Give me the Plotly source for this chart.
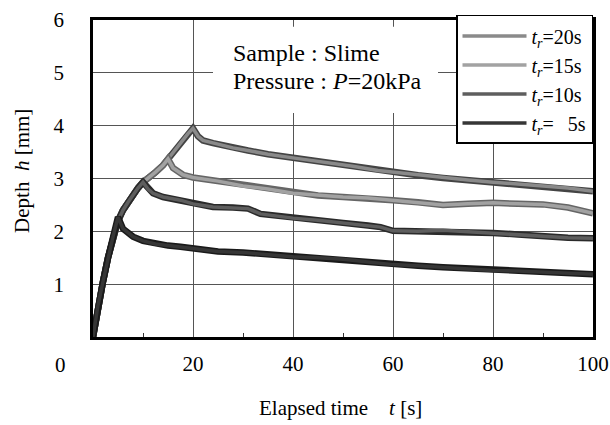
import plotly.graph_objects as go

# ---- data ----
t_5 = [0, 1, 2, 3, 4, 5, 6, 8, 10, 12.5, 15, 17.5, 20, 25, 30, 35, 40, 45, 50, 55, 60, 65, 70, 75, 80, 85, 90, 95, 100]
h_5 = [0, 0.6, 1.05, 1.5, 1.9, 2.27, 2.05, 1.9, 1.82, 1.76, 1.73, 1.71, 1.68, 1.62, 1.60, 1.56, 1.52, 1.50, 1.47, 1.42, 1.37, 1.35, 1.32, 1.30, 1.26, 1.25, 1.23, 1.22, 1.19]

t_10 = [0, 1, 2, 3, 4, 5, 6, 7, 8, 9, 10, 11, 12, 14, 17.5, 20, 24, 28, 31, 33.5, 36, 40, 45, 50, 55, 57.5, 60, 65, 70, 75, 80, 85, 90, 95, 100]
h_10 = [0, 0.6, 1.05, 1.5, 1.9, 2.2, 2.4, 2.55, 2.7, 2.82, 2.93, 2.8, 2.72, 2.65, 2.59, 2.52, 2.46, 2.45, 2.43, 2.33, 2.30, 2.25, 2.21, 2.16, 2.11, 2.08, 2.01, 2.00, 2.02, 1.99, 1.97, 1.94, 1.90, 1.88, 1.87]

t_15 = [0, 1, 2, 3, 4, 5, 6, 7, 8, 9, 10, 11, 12.5, 14, 15, 16, 18, 20, 25, 30, 35, 40, 45, 50, 55, 60, 65, 70, 75, 80, 85, 90, 95, 100]
h_15 = [0, 0.6, 1.05, 1.5, 1.9, 2.2, 2.4, 2.55, 2.7, 2.82, 2.93, 3.0, 3.12, 3.25, 3.37, 3.2, 3.07, 3.02, 2.95, 2.86, 2.80, 2.72, 2.68, 2.65, 2.63, 2.59, 2.55, 2.50, 2.52, 2.54, 2.52, 2.51, 2.45, 2.34]

t_20 = [0, 1, 2, 3, 4, 5, 6, 7, 8, 9, 10, 11, 12.5, 14, 15, 16, 17, 18, 19, 20, 21, 22, 24, 28, 31, 35, 40, 47, 52, 57, 60, 65, 70, 75, 80, 85, 90, 95, 100]
h_20 = [0, 0.6, 1.05, 1.5, 1.9, 2.2, 2.4, 2.55, 2.7, 2.82, 2.93, 3.0, 3.12, 3.25, 3.37, 3.5, 3.6, 3.72, 3.85, 3.95, 3.8, 3.72, 3.67, 3.58, 3.53, 3.46, 3.39, 3.30, 3.23, 3.15, 3.12, 3.06, 3.01, 2.97, 2.93, 2.90, 2.86, 2.82, 2.76]

series_names = ["<i>t</i><sub><i>r</i></sub>=20s", "<i>t</i><sub><i>r</i></sub>=15s",
                "<i>t</i><sub><i>r</i></sub>=10s", "<i>t</i><sub><i>r</i></sub>=\u2007\u20095s"]
series_t = [t_20, t_15, t_10, t_5]
series_h = [h_20, h_15, h_10, h_5]
inner_colors = ["#8a8a8a", "#a2a2a2", "#5e5e5e", "#363636"]
edge_colors = ["#444444", "#666666", "#2a2a2a", "#1a1a1a"]

x_ticks = [20, 40, 60, 80, 100]
y_ticks = [1, 2, 3, 4, 5, 6]

FONT = "'Liberation Serif', 'DejaVu Serif', serif"

fig = go.Figure()
for name, tt, hh, ci, ce in zip(series_names, series_t, series_h, inner_colors, edge_colors):
    fig.add_trace(go.Scatter(x=tt, y=hh, mode="lines", showlegend=False, hoverinfo="skip",
                             line=dict(color=ce, width=6.5)))
    fig.add_trace(go.Scatter(x=tt, y=hh, mode="lines", name=name,
                             line=dict(color=ci, width=3.5)))

fig.update_layout(
    width=610, height=425,
    margin=dict(l=93, r=17, t=20, b=88, autoexpand=False),
    paper_bgcolor="white", plot_bgcolor="white",
    font=dict(family=FONT, size=21, color="black"),
    showlegend=True,
    legend=dict(x=1, xanchor="right", y=1.016, yanchor="top",
                bgcolor="white", bordercolor="black", borderwidth=1.5,
                font=dict(family=FONT, size=20), tracegroupgap=0,
                itemwidth=64),
    xaxis=dict(range=[0, 100], tickvals=x_ticks, ticktext=[str(v) for v in x_ticks],
               showgrid=True, gridcolor="#555555", gridwidth=1,
               showline=True, linecolor="black", linewidth=2.5, mirror=True,
               ticks="", ticklabelstandoff=6, zeroline=False,
               tickfont=dict(family=FONT, size=21),
               minor=dict(tickvals=[10, 30, 50, 70, 90], ticks="inside", ticklen=4,
                          tickcolor="#333333", showgrid=False)),
    yaxis=dict(range=[0, 6], tickvals=y_ticks, ticktext=[str(v) for v in y_ticks],
               showgrid=True, gridcolor="#555555", gridwidth=1,
               showline=True, linecolor="black", linewidth=2.5, mirror=True,
               tickfont=dict(family=FONT, size=21),
               ticks="", ticklabelstandoff=22, zeroline=False),
)

# white text box for sample info
fig.add_shape(type="rect", x0=24, x1=69, y0=4.24, y1=5.87, xref="x", yref="y",
              fillcolor="white", line=dict(width=0), layer="above")
fig.add_annotation(x=27.6, y=5.38, xref="x", yref="y", xanchor="left", yanchor="middle",
                   align="left", showarrow=False, text="Sample : Slime",
                   font=dict(family=FONT, size=24))
fig.add_annotation(x=27.6, y=4.85, xref="x", yref="y", xanchor="left", yanchor="middle",
                   align="left", showarrow=False, text="Pressure : <i>P</i>=20kPa",
                   font=dict(family=FONT, size=24))

# shared origin label
fig.add_annotation(x=-0.066, y=-0.088, xref="paper", yref="paper", showarrow=False,
                   xanchor="center", yanchor="middle",
                   text="0", font=dict(family=FONT, size=21))
# axis titles
fig.add_annotation(x=0.495, y=-0.224, xref="paper", yref="paper", showarrow=False,
                   xanchor="center", yanchor="middle",
                   text="Elapsed time\u2003<i>t</i> [s]", font=dict(family=FONT, size=21))
fig.add_annotation(x=-0.142, y=0.524, xref="paper", yref="paper", showarrow=False,
                   xanchor="center", yanchor="middle",
                   textangle=-90, text="Depth\u2002<i>h</i> [mm]", font=dict(family=FONT, size=21))

# remove the page's default body margin so the 610x425 figure fills the window exactly
fig.write_html("out.html", config={"displayModeBar": False},
               post_script="document.body.style.margin='0';")
